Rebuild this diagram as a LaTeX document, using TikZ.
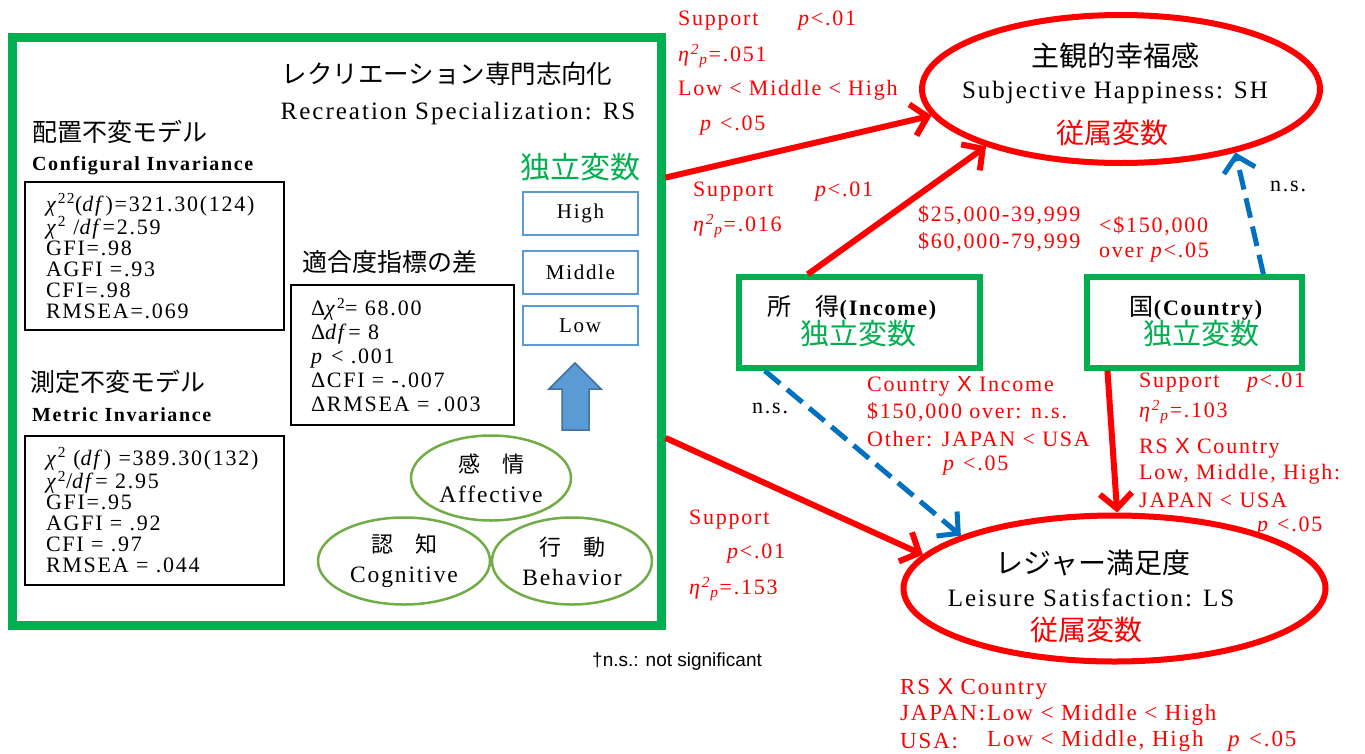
\documentclass[tikz,border=0pt]{standalone}
\usepackage{fontspec}
\setmainfont{Liberation Serif}[LetterSpace=8]
\newfontfamily\jp{Noto Sans CJK JP}
\newfontfamily\arialf{Liberation Sans}
\usetikzlibrary{arrows.meta,shapes.geometric}
\definecolor{gr}{HTML}{00B050}
\definecolor{lg}{HTML}{70AD47}
\definecolor{bb}{HTML}{5B9BD5}
\definecolor{bd}{HTML}{0070C0}
\definecolor{ab}{HTML}{41719C}
\newcommand\fsz[2]{\fontsize{#1}{#2}\selectfont}
\newcommand\etap{\textit{η}\textsuperscript{\textit{2}}\kern-1pt\textsubscript{\textit{p}}}
\begin{document}
\begin{tikzpicture}[x=1pt,y=-1pt,
  rt/.style={text=red, font=\fsz{22}{24}, inner sep=0pt, anchor=west},
  rtb/.style={text=red, font=\fsz{23}{24}, inner sep=0pt, anchor=west},
  bt/.style={text=black, font=\fsz{22}{24}, inner sep=0pt, anchor=west},
  fitbox/.style={draw=black, line width=2pt, align=left, anchor=north west, inner ysep=0pt},
  lvl/.style={draw=bb, line width=2pt, minimum width=115pt, font=\fsz{21}{24}, inner sep=0pt},
  fac/.style={ellipse, draw=lg, line width=2.5pt, inner sep=0pt, align=center, font=\fsz{23.5}{30}},
  dv/.style={ellipse, draw=red, line width=6pt, inner sep=0pt},
  iv/.style={draw=gr, line width=5.5pt, inner sep=0pt},
  redarr/.style={draw=red, line width=6pt, -{Straight Barb[length=15pt,width=32pt]}},
  bluearr/.style={draw=bd, line width=5pt, dash pattern=on 20pt off 9pt, -{Straight Barb[length=15pt,width=32pt]}},
  jph/.style={font=\jp\fsz{25}{28}, inner sep=0pt, anchor=west},
  enh/.style={font=\bfseries\fsz{20}{24}, inner sep=0pt, anchor=west}
]
\fill[white] (0,0) rectangle (1365,753);
\useasboundingbox (0,0) rectangle (1365,753);

% ---------- RS block ----------
\node[draw=gr, line width=9pt, minimum width=649pt, minimum height=588pt, inner sep=0pt] (rs) at (336.5,331) {};
\node[inner sep=0pt, font=\jp\fsz{25.5}{28}] (rsjp) at (447,74) {レクリエーション専門志向化};
\node[inner sep=0pt, font=\fsz{25}{28}] (rsen) at (458,113) {Recreation Specialization: RS};

\node[jph] (h1) at (32,132) {配置不変モデル};
\node[enh] (h1e) at (32,166) {Configural Invariance};
\node[fitbox, text width=217pt, inner xsep=21pt, minimum height=148pt, font=\fsz{22}{21}] (f1) at (24,181)
 {\textit{χ}\textsuperscript{22}(\textit{df})=321.30(124)\\
  \textit{χ}\textsuperscript{2} /\textit{df}=2.59\\
  GFI=.98\\ AGFI =.93\\ CFI=.98\\ RMSEA=.069};

\node[jph] (h2) at (30,382) {測定不変モデル};
\node[enh] (h2e) at (32,415) {Metric Invariance};
\node[fitbox, text width=217pt, inner xsep=21pt, minimum height=149pt, font=\fsz{22}{21}] (f2) at (24,435)
 {\textit{χ}\textsuperscript{2} (\textit{df}) =389.30(132)\\
  \textit{χ}\textsuperscript{2}/\textit{df}= 2.95\\
  GFI=.95\\ AGFI = .92\\ CFI = .97\\ RMSEA = .044};

\node[jph] (h3) at (302,262) {適合度指標の差};
\node[fitbox, text width=183pt, inner xsep=20pt, minimum height=140pt, font=\fsz{22}{24}] (f3) at (290,284)
 {Δ\textit{χ}\textsuperscript{2}= 68.00\\
  Δ\textit{df}= 8\\
  \textit{p} < .001\\
  ΔCFI = -.007\\
  ΔRMSEA = .003};

\node[inner sep=0pt, text=gr, font=\jp\fsz{30}{32}] (rsiv) at (580,167) {独立変数};
\node[lvl, minimum height=43pt] (high) at (580.5,213.5) {High};
\node[lvl, minimum height=43pt] (mid) at (580.5,272.5) {Middle};
\node[lvl, minimum height=39pt] (low) at (580,325.5) {Low};
\filldraw[fill=bb, draw=ab, line width=1.5pt] (575,363) -- (601,389) -- (589,389) -- (589,430) -- (562,430) -- (562,389) -- (549,389) -- cycle;

\node[fac, minimum width=160pt, minimum height=85pt] (aff) at (491,478) {{\jp\fsz{22}{30}感　情}\\Affective};
\node[fac, minimum width=172pt, minimum height=87pt] (cog) at (404,561) {{\jp\fsz{22}{30}認　知}\\Cognitive};
\node[fac, minimum width=160pt, minimum height=87pt] (beh) at (572,561) {{\jp\fsz{22}{30}行　動}\\Behavior};

% ---------- dependent variables ----------
\node[dv, minimum width=398pt, minimum height=148pt] (sh) at (1121,89) {};
\node[inner sep=0pt, font=\jp\fsz{28}{30}] (shjp) at (1115,56) {主観的幸福感};
\node[inner sep=0pt, font=\fsz{25}{28}] (shen) at (1115,92) {Subjective Happiness: SH};
\node[inner sep=0pt, text=red, font=\jp\fsz{28}{30}] (shdv) at (1112,133) {従属変数};

\node[dv, minimum width=422pt, minimum height=146pt] (ls) at (1114.5,588.5) {};
\node[inner sep=0pt, font=\jp\fsz{28}{30}] (lsjp) at (1093,563) {レジャー満足度};
\node[inner sep=0pt, font=\fsz{25}{28}] (lsen) at (1091,598) {Leisure Satisfaction: LS};
\node[inner sep=0pt, text=red, font=\jp\fsz{28}{30}] (lsdv) at (1086,630) {従属変数};

% ---------- independent variables ----------
\node[iv, minimum width=241pt, minimum height=91pt] (inc) at (859.5,322.5) {};
\node[inner sep=0pt] (incl) at (852,308) {{\jp\fsz{24}{26}所　得}{\bfseries\fsz{22}{24}(Income)}};
\node[inner sep=0pt, text=gr, font=\jp\fsz{29}{30}] (inciv) at (858,334) {独立変数};
\node[iv, minimum width=215pt, minimum height=91pt] (cty) at (1194.5,322.5) {};
\node[inner sep=0pt] (ctyl) at (1196,308) {{\jp\fsz{24}{26}国}{\bfseries\fsz{22}{24}(Country)}};
\node[inner sep=0pt, text=gr, font=\jp\fsz{29}{30}] (ctyiv) at (1201,334) {独立変数};

% ---------- connectors ----------
\draw[redarr] (rs.25.1) -- (sh.188);
\draw[redarr] (inc.137.4) -- (sh.203);
\draw[redarr] (rs.-18.4) -- (ls.170);
\draw[redarr] (cty.209.2) -- (ls.88);
\draw[bluearr] (inc.207.5) -- (ls.161);
\draw[bluearr] (cty.35) -- (sh.331);

% ---------- labels ----------
\node[rt] (s1a) at (678,21) {Support};
\node[rt] (s1b) at (798,21) {\textit{p}<.01};
\node[rt] (s1c) at (678,56) {\etap=.051};
\node[rt] (s1d) at (678,90) {Low < Middle < High};
\node[rt] (s1e) at (700,126) {\textit{p} <.05};

\node[rt] (s2a) at (693,192) {Support};
\node[rt] (s2b) at (815,192) {\textit{p}<.01};
\node[rt] (s2c) at (693,226) {\etap=.016};

\node[rt] (i1) at (918,215) {\$25,000-39,999};
\node[rt] (i2) at (918,242) {\$60,000-79,999};
\node[rt] (c1) at (1099,226) {<\$150,000};
\node[rt] (c2) at (1099,253) {over \textit{p}<.05};

\node[bt] (ns1) at (1270,186) {n.s.};
\node[bt] (ns2) at (752,408) {n.s.};

\node[rt] (ci1) at (867,386) {Country {\arialf X} Income};
\node[rt] (ci2) at (867,412) {\$150,000 over: n.s.};
\node[rt] (ci3) at (867,439) {Other: JAPAN < USA};
\node[rt] (ci4) at (943,466) {\textit{p} <.05};

\node[rt] (s4a) at (1139,383) {Support};
\node[rt] (s4b) at (1247,383) {\textit{p}<.01};
\node[rt] (s4c) at (1139,412) {\etap=.103};
\node[rt] (s4d) at (1139,448) {RS {\arialf X} Country};
\node[rt] (s4e) at (1139,474) {Low, Middle, High:};
\node[rt] (s4f) at (1139,500) {JAPAN < USA};
\node[rt] (s4g) at (1257,527) {\textit{p} <.05};

\node[rt] (s3a) at (689,520) {Support};
\node[rt] (s3b) at (727,554) {\textit{p}<.01};
\node[rt] (s3c) at (689,589) {\etap=.153};

\node[inner sep=0pt, anchor=west, font=\arialf\fsz{19}{22}] (foot) at (592,662) {†n.s.: not significant};

\node[rtb] (b1) at (900,689) {RS {\arialf X} Country};
\node[rtb] (b2) at (900,715) {JAPAN:Low < Middle < High};
\node[rtb] (b3) at (900,741) {USA:};
\node[rtb] (b4) at (987,741) {Low < Middle, High};
\node[rtb] (b5) at (1228,741) {\textit{p} <.05};
\end{tikzpicture}
\end{document}
